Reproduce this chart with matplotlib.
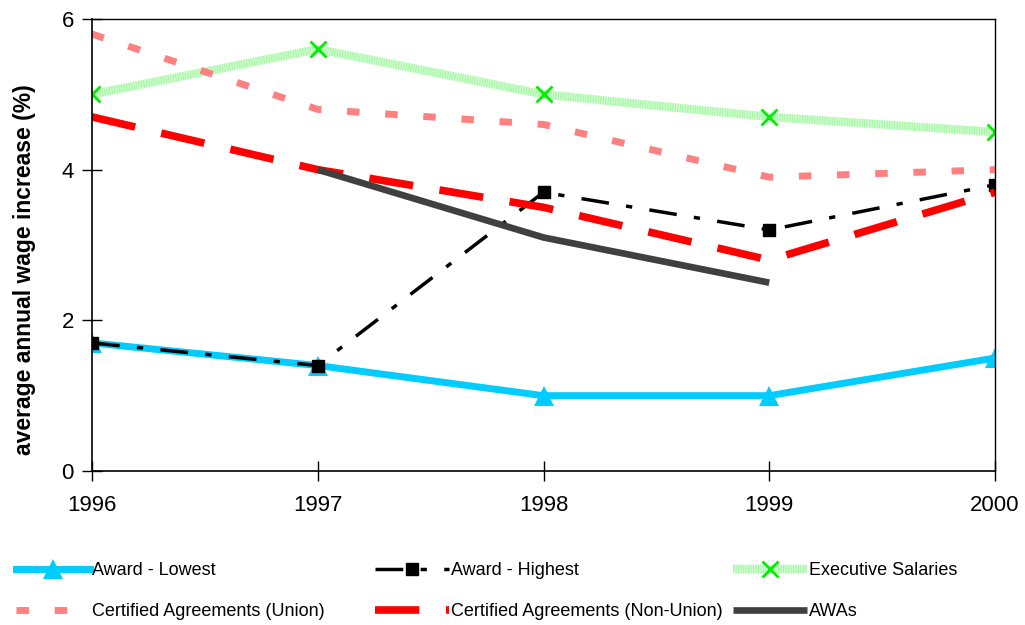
import matplotlib
matplotlib.use("Agg")
import matplotlib.pyplot as plt

plt.rcParams['font.family'] = ['Liberation Sans', 'DejaVu Sans']

years = [1996, 1997, 1998, 1999, 2000]
award_lowest = [1.7, 1.4, 1.0, 1.0, 1.5]
award_highest = [1.7, 1.4, 3.7, 3.2, 3.8]
executive = [5.0, 5.6, 5.0, 4.7, 4.5]
ca_union = [5.8, 4.8, 4.6, 3.9, 4.0]
ca_non_union = [4.7, 4.0, 3.5, 2.8, 3.7]
awa_years = [1997, 1998, 1999]
awas = [4.0, 3.1, 2.5]

fig = plt.figure(figsize=(10.25, 6.25), dpi=100)
ax = fig.add_axes([92 / 1025, 1 - 471 / 625, (995 - 92) / 1025, (471 - 19) / 625])

h_low, = ax.plot(years, award_lowest, color='#00ccff', lw=5, marker='^',
                 markersize=14, markeredgewidth=0, label='Award - Lowest')
h_high, = ax.plot(years, award_highest, color='black', lw=2.5,
                  dashes=(8, 5, 1.8, 5), marker='s', markersize=8,
                  label='Award - Highest')

# executive salaries: pale green band with fine vertical striping, x markers on top
h_exec_base, = ax.plot(years, executive, color='#ccffcc', lw=6,
                       solid_capstyle='butt')
h_exec_stripe, = ax.plot(years, executive, color='#a6f4a6', lw=6,
                         dashes=(0.12, 0.18), dash_capstyle='butt')
h_exec_mark, = ax.plot(years, executive, ls='none', marker='x',
                       markersize=12, markeredgecolor='#00ee00',
                       markeredgewidth=2)

h_union, = ax.plot(years, ca_union, color='#ff8080', lw=5,
                   dashes=(1.8, 3.7), dash_capstyle='butt',
                   label='Certified Agreements (Union)')
h_non, = ax.plot(years, ca_non_union, color='#ff0000', lw=5.5,
                 dashes=(5.8, 3.5), dash_capstyle='butt',
                 label='Certified Agreements (Non-Union)')
h_awa, = ax.plot(awa_years, awas, color='#404040', lw=4.8,
                 solid_capstyle='butt', label='AWAs')

ax.set_xlim(1996, 2000)
ax.set_ylim(0, 6)
ax.set_xticks(years)
ax.set_xticklabels([str(y) for y in years])
ax.set_yticks([0, 2, 4, 6])
ax.tick_params(direction='inout', length=14, width=1, labelsize=16,
               colors='black')
ax.tick_params(axis='x', pad=10)
ax.tick_params(axis='y', pad=6)
for s in ax.spines.values():
    s.set_linewidth(1.2)
    s.set_color('black')
ax.spines['top'].set_linewidth(1.0)
ax.spines['right'].set_linewidth(1.0)

ax.set_ylabel('average annual wage increase (%)', fontsize=16.5,
              fontweight='bold')
ax.yaxis.set_label_coords(-0.062, 0.445)

exec_handle = (h_exec_base, h_exec_stripe, h_exec_mark)
columns = [
    (16, [h_low, h_union], ['Award - Lowest', 'Certified Agreements (Union)']),
    (375, [h_high, h_non], ['Award - Highest', 'Certified Agreements (Non-Union)']),
    (733, [exec_handle, h_awa], ['Executive Salaries', 'AWAs']),
]
for x0, handles, labels in columns:
    fig.legend(handles=handles, labels=labels,
               loc='upper left', bbox_to_anchor=(x0 / 1025, 1 - 562 / 625),
               frameon=False, fontsize=13, handlelength=4.1,
               handletextpad=0.12, labelspacing=1.32, borderpad=0,
               borderaxespad=0, numpoints=1)

fig.savefig('out.png', dpi=100)
